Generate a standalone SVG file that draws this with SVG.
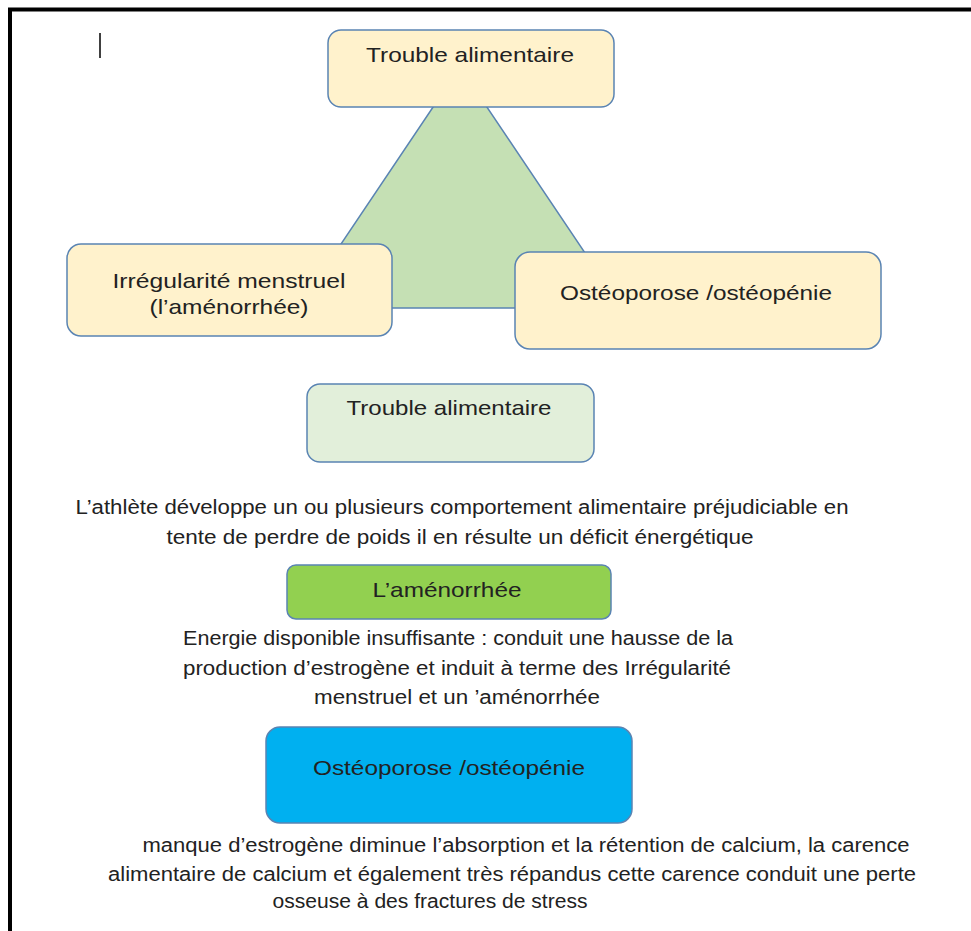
<svg xmlns="http://www.w3.org/2000/svg" width="971" height="931" viewBox="0 0 971 931">
<style>
.t{font-family:"Liberation Sans",Arial,sans-serif;fill:#222;text-anchor:middle}
.b{font-size:21px}
.p{font-size:20px}
.box{stroke:#5a84b3;stroke-width:1.5}
.y{fill:#fff2cc}
</style>
<rect width="971" height="931" fill="#fff"/>
<path d="M10,931 V9.5 H971" fill="none" stroke="#000" stroke-width="4"/>
<line x1="100" y1="33" x2="100" y2="58" stroke="#000" stroke-width="1.5"/>
<g id="triangle">
<polygon points="460,67 298,308 622,308" fill="#c5e0b4" stroke="#5a84b3" stroke-width="1.5"/>
</g>
<g id="connectors"></g>
<g id="node-top">
<rect class="box y" x="328" y="30" width="286" height="77" rx="13"/>
<text class="t b" x="470" y="62" textLength="208" lengthAdjust="spacingAndGlyphs">Trouble alimentaire</text>
</g>
<g id="node-left">
<rect class="box y" x="67" y="244" width="325" height="92" rx="14"/>
<text class="t b" x="229" y="288" textLength="233" lengthAdjust="spacingAndGlyphs">Irrégularité menstruel</text>
<text class="t b" x="229" y="314" textLength="159" lengthAdjust="spacingAndGlyphs">(l’aménorrhée)</text>
</g>
<g id="node-right">
<rect class="box y" x="515" y="252" width="366" height="97" rx="15"/>
<text class="t b" x="696" y="300" textLength="272" lengthAdjust="spacingAndGlyphs">Ostéoporose /ostéopénie</text>
</g>
<g id="node-trouble">
<rect class="box" x="307" y="384" width="287" height="78" rx="13" fill="#e2efda"/>
<text class="t b" x="449" y="415" textLength="205" lengthAdjust="spacingAndGlyphs">Trouble alimentaire</text>
</g>
<g id="text-1">
<text class="t p" x="462" y="514" textLength="773" lengthAdjust="spacingAndGlyphs">L’athlète développe un ou plusieurs comportement alimentaire préjudiciable en</text>
<text class="t p" x="460" y="544" textLength="587" lengthAdjust="spacingAndGlyphs">tente de perdre de poids il en résulte un déficit énergétique</text>
</g>
<g id="node-amenorrhee">
<rect class="box" x="287" y="565" width="324" height="54" rx="9" fill="#92d050"/>
<text class="t b" x="447" y="597" textLength="149" lengthAdjust="spacingAndGlyphs">L’aménorrhée</text>
</g>
<g id="text-2">
<text class="t p" x="458" y="645" textLength="550" lengthAdjust="spacingAndGlyphs">Energie disponible insuffisante : conduit une hausse de la</text>
<text class="t p" x="457" y="675" textLength="548" lengthAdjust="spacingAndGlyphs">production d’estrogène et induit à terme des Irrégularité</text>
<text class="t p" x="457" y="704" textLength="286" lengthAdjust="spacingAndGlyphs">menstruel et un ’aménorrhée</text>
</g>
<g id="node-osteo">
<rect class="box" x="266" y="727" width="366" height="96" rx="14" fill="#00b0f0"/>
<text class="t b" x="449" y="775" textLength="272" lengthAdjust="spacingAndGlyphs">Ostéoporose /ostéopénie</text>
</g>
<g id="text-3">
<text class="t p" x="526" y="852" textLength="767" lengthAdjust="spacingAndGlyphs">manque d’estrogène diminue l’absorption et la rétention de calcium, la carence</text>
<text class="t p" x="512" y="881" textLength="808" lengthAdjust="spacingAndGlyphs">alimentaire de calcium et également très répandus cette carence conduit une perte</text>
<text class="t p" x="430" y="908" textLength="315" lengthAdjust="spacingAndGlyphs">osseuse à des fractures de stress</text>
</g>
</svg>
